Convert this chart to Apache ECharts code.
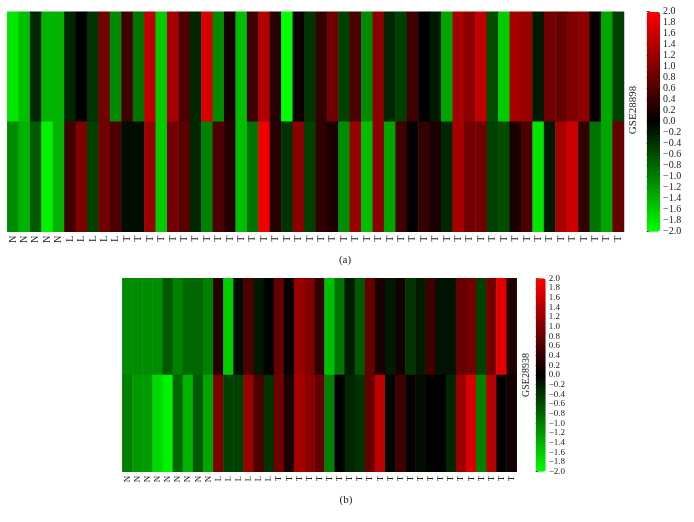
<!DOCTYPE html>
<html><head><meta charset="utf-8">
<script src="https://cdn.jsdelivr.net/npm/echarts@6/dist/echarts.min.js"></script>
<style>html,body{margin:0;padding:0;background:#fff}#c{width:694px;height:522px}</style>
</head><body><div id="c"></div>
<script>
// ---------- DATA ----------
const topCats = ['N','N','N','N','N','L','L','L','L','L'].concat(Array(44).fill('T'));
const topRowA = [-1.8,-1.5,-0.3,-1.4,-1.4,-0.3,0.0,-0.4,0.9,-1.1,0.5,-0.9,1.5,-1.6,1.3,0.6,-0.3,1.7,-1.1,0.2,-1.5,0.5,1.4,0.3,-2.0,0.1,-0.4,0.4,0.9,-0.5,0.6,-1.1,1.1,-0.3,-0.5,0.5,0.0,-0.2,-1.3,1.3,1.1,1.5,-0.6,-1.6,1.3,1.2,-0.2,0.9,0.8,1.0,1.1,0.05,-1.3,-0.5];
const topRowB = [-1.1,-1.4,-0.7,-1.9,-1.4,0.5,1.0,-0.5,0.9,0.6,-0.1,-0.1,1.2,-1.6,0.9,0.7,-0.3,-1.0,0.6,0.3,-1.5,-0.9,1.9,0.3,-0.4,1.1,-0.5,0.4,0.2,-1.1,1.2,-1.5,1.1,-1.3,0.5,0.0,0.4,0.2,-0.3,1.3,0.9,0.9,-0.5,-0.6,0.2,0.6,-1.8,-0.2,1.3,1.6,0.4,-0.9,-1.3,0.8];
const botCats = ['N','N','N','N','N','N','N','N','N','L','L','L','L','L','L'].concat(Array(24).fill('T'));
const botRowA = [-1.1,-1.1,-1.1,-1.1,-0.7,-1.0,-0.8,-0.8,-1.0,0.3,-1.6,-0.1,0.6,-0.2,0.0,0.8,0.05,1.2,1.0,0.4,-1.5,-0.9,-0.2,-0.7,0.8,0.2,-0.2,0.15,-0.4,-0.2,0.5,-0.15,-0.15,0.8,0.9,-0.5,0.9,1.8,0.25];
const botRowB = [-1.0,-1.2,-1.2,-1.7,-1.9,-0.8,-1.4,-0.7,-1.3,1.0,-0.5,-0.5,1.2,0.6,-0.4,0.9,0.2,1.3,1.1,0.8,-1.0,0.0,-0.3,-0.4,0.8,1.5,-0.05,0.5,0.05,-0.1,0.0,0.0,-0.3,1.2,1.7,-1.0,1.4,0.0,0.15];
const rowNames = ['r1','r2'];
const scaleMin = -2.0, scaleMax = 2.0, scaleStep = 0.2;
const titles = ['GSE28898','GSE28938'];
const captions = ['(a)','(b)'];

// ---------- CHART ----------
const FONT = 'Liberation Serif, "Times New Roman", serif';
const chart = echarts.init(document.getElementById('c'), null, {renderer:'canvas'});
function toCells(rows){const out=[];rows.forEach((r,ri)=>r.forEach((v,ci)=>out.push([ci,ri,v])));return out;}
const fmt = v => {const s=Math.abs(v).toFixed(1);return v < -1e-9 ? '\u2212'+s : s;};
const colors = ['#00ff00','#000000','#ff0000'];

function catX(idx, cats, fs){
  return {type:'category', gridIndex:idx, data:cats, axisLine:{show:false}, axisTick:{show:false},
    splitLine:{show:false},
    axisLabel:{rotate:90, interval:0, margin:4, fontSize:fs, fontFamily:FONT, color:'#222'}};
}
function rowY(idx){
  return {type:'category', gridIndex:idx, data:rowNames, inverse:true, show:false};
}
function scaleY(idx, fs){
  return {type:'value', gridIndex:idx, min:scaleMin, max:scaleMax, interval:scaleStep, position:'right',
    axisLine:{show:false}, splitLine:{show:false},
    axisTick:{show:true, length:3, lineStyle:{color:'#333', width:1}},
    axisLabel:{margin:3, fontSize:fs, fontFamily:FONT, color:'#222', formatter:fmt}};
}

const option = {
  backgroundColor:'#fff',
  animation:false,
  grid:[
    {left:7.3, top:11.7, width:616.7, height:220},
    {left:122.3, top:278.3, width:394.4, height:193.4},
    {left:646.7, top:11.7, width:13.3, height:220},
    {left:535.7, top:278.3, width:10, height:193.4}
  ],
  xAxis:[
    catX(0, topCats, 10),
    catX(1, botCats, 9),
    {type:'value', gridIndex:2, show:false, min:0, max:1},
    {type:'value', gridIndex:3, show:false, min:0, max:1}
  ],
  yAxis:[rowY(0), rowY(1), scaleY(2,10), scaleY(3,9)],
  visualMap:[
    {type:'continuous', seriesIndex:0, min:scaleMin, max:scaleMax, calculable:false, hoverLink:false,
     orient:'vertical', left:646.7, top:11.7, itemWidth:13.3, itemHeight:220, padding:0, text:null,
     inRange:{color:colors}},
    {type:'continuous', seriesIndex:1, min:scaleMin, max:scaleMax, calculable:false, hoverLink:false,
     orient:'vertical', left:535.7, top:278.3, itemWidth:10, itemHeight:193.4, padding:0, text:null,
     inRange:{color:colors}}
  ],
  series:[
    {type:'heatmap', xAxisIndex:0, yAxisIndex:0, data:toCells([topRowA, topRowB]), emphasis:{disabled:true}},
    {type:'heatmap', xAxisIndex:1, yAxisIndex:1, data:toCells([botRowA, botRowB]), emphasis:{disabled:true}},
    {type:'scatter', xAxisIndex:2, yAxisIndex:2, data:[]},
    {type:'scatter', xAxisIndex:3, yAxisIndex:3, data:[]}
  ],
  graphic:[
    {type:'text', x:633.5, y:110, rotation:Math.PI/2, style:{text:titles[0], font:'11px '+FONT, fill:'#222', textAlign:'center', textVerticalAlign:'middle'}},
    {type:'text', x:526.7, y:375, rotation:Math.PI/2, style:{text:titles[1], font:'10px '+FONT, fill:'#222', textAlign:'center', textVerticalAlign:'middle'}},
    {type:'text', x:345, y:260, style:{text:captions[0], font:'11px '+FONT, fill:'#222', textAlign:'center', textVerticalAlign:'middle'}},
    {type:'text', x:346, y:500, style:{text:captions[1], font:'11px '+FONT, fill:'#222', textAlign:'center', textVerticalAlign:'middle'}}
  ]
};
chart.setOption(option);
</script>
</body></html>
